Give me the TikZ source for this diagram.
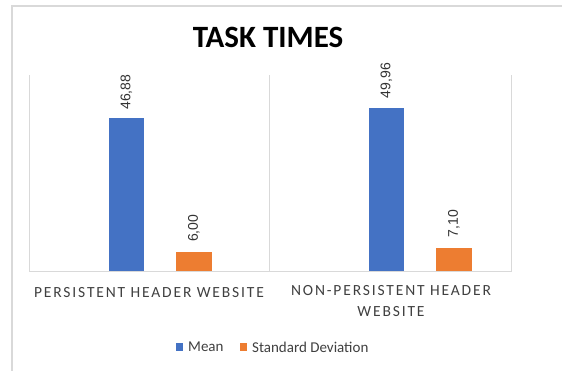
\documentclass[tikz,border=0pt]{standalone}
\usepackage{fontspec}
\setmainfont{Carlito}
\newfontfamily\labfont{Liberation Sans}
\definecolor{mblue}{HTML}{4472C4}
\definecolor{sorange}{HTML}{ED7D31}
\definecolor{gridgray}{HTML}{D9D9D9}
\definecolor{txtgray}{HTML}{404040}
\tikzset{
  bar/.style={draw=none, inner sep=0pt, minimum width=35.5pt, anchor=south},
  vlabel/.style={inner sep=0pt, rotate=90, anchor=west, font=\labfont\fontsize{14}{16}\selectfont, text=txtgray!80!black},
  catlabel/.style={inner sep=0pt, align=center, text=txtgray, font=\fontsize{15.5}{20.5}\selectfont\addfontfeature{LetterSpace=12}},
  grid/.style={draw=gridgray, line width=1pt},
  legsq/.style={inner sep=0pt, minimum size=7.5pt, draw=none},
  legtext/.style={inner sep=0pt, anchor=west, text=txtgray, font=\fontsize{15}{16}\selectfont}
}
\begin{document}
\begin{tikzpicture}[x=1pt,y=-1pt]
\useasboundingbox (0,0) rectangle (562,370);
\fill[white] (0,0) rectangle (562,370);
% chart frame
\draw[gridgray, line width=1.5pt] (12,380) -- (12,6) -- (580,6);
% title
\node[inner sep=0pt, font=\bfseries\fontsize{31}{34}\selectfont] (title) at (268,37.5) {TASK TIMES};
% grid
\coordinate (g1t) at (29,75);
\coordinate (g1b) at (29,271.5);
\coordinate (g2t) at (269,75);
\coordinate (g2b) at (269,271.5);
\coordinate (g3t) at (511,75);
\coordinate (g3b) at (511,271.5);
\draw[grid] (g1t) -- (g1b) -- (g3b) -- (g3t);
\draw[grid] (g2t) -- (g2b);
% bars
\node[bar, fill=mblue, minimum height=153.2pt] (m1) at (126.5,271.5) {};
\node[bar, fill=sorange, minimum height=19.6pt] (s1) at (193.8,271.5) {};
\node[bar, fill=mblue, minimum height=163.3pt] (m2) at (386.3,271.5) {};
\node[bar, fill=sorange, minimum height=23.2pt] (s2) at (453.8,271.5) {};
% value labels
\node[vlabel] (lm1) at ([yshift=8pt]m1.north) {46,88};
\node[vlabel] (ls1) at ([yshift=9.5pt]s1.north) {6,00};
\node[vlabel] (lm2) at ([yshift=9.5pt]m2.north) {49,96};
\node[vlabel] (ls2) at ([yshift=10.5pt]s2.north) {7,10};
% category labels
\node[catlabel] (c1) at (149,292.7) {PERSISTENT HEADER WEBSITE};
\node[catlabel, anchor=north] (c2) at (391,285.5) {NON-PERSISTENT HEADER\\WEBSITE};
% legend
\node[legsq, fill=mblue] (lq1) at (179.5,347.2) {};
\node[legtext] (lt1) at (188,347.2) {Mean};
\node[legsq, fill=sorange] (lq2) at (243.5,347.2) {};
\node[legtext] (lt2) at (252,347.2) {Standard Deviation};
\end{tikzpicture}
\end{document}
